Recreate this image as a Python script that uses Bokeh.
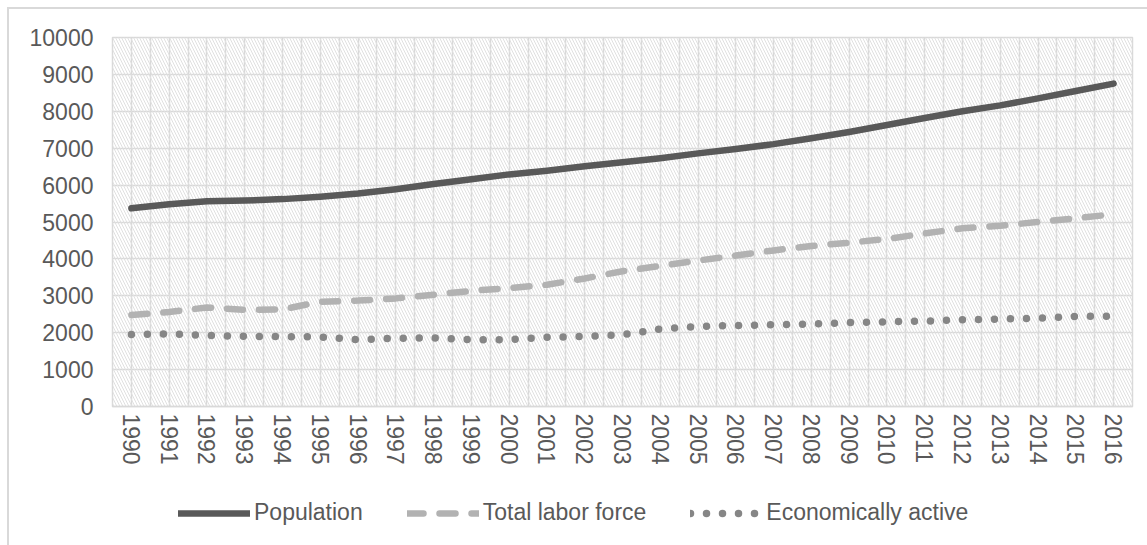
import numpy as np
from bokeh.plotting import figure
from bokeh.layouts import column
from bokeh.models import FixedTicker, BoxAnnotation, Legend, LegendItem
from bokeh.embed import file_html
from bokeh.resources import INLINE

# --- data -------------------------------------------------------------
years = [str(y) for y in range(1990, 2017)]

population = [5370, 5480, 5560, 5580, 5620, 5685, 5770, 5890, 6030, 6160,
              6290, 6390, 6510, 6620, 6730, 6860, 6980, 7110, 7270, 7440,
              7630, 7820, 8000, 8160, 8350, 8550, 8750]

labor_force = [2480, 2560, 2685, 2620, 2630, 2840, 2870, 2930, 3030, 3135,
               3210, 3300, 3470, 3665, 3810, 3955, 4090, 4230, 4350, 4440,
               4540, 4690, 4830, 4900, 5000, 5100, 5210]

econ_active = [1950, 1965, 1930, 1900, 1895, 1885, 1810, 1850, 1855, 1810,
               1810, 1875, 1900, 1945, 2100, 2170, 2195, 2215, 2235, 2275,
               2295, 2315, 2350, 2370, 2395, 2440, 2450]

series_names = ["Population", "Total labor force", "Economically active"]

y_ticks = list(range(0, 10001, 1000))

FONT = "Liberation Sans"
TXT = "#595959"
GRID = "#d9d9d9"

styles = [dict(line_color="#595959", line_width=6.5, line_cap="round", line_join="round"),
          dict(line_color="#b2b2b2", line_width=6.5, line_cap="round", line_join="round",
               line_dash="16 16"),
          dict(line_color="#868686", line_width=7.5, line_cap="round", line_join="round",
               line_dash="0 16")]

x = list(range(len(years)))
all_series = [population, labor_force, econ_active]

p = figure(frame_width=1018, frame_height=367,
           min_border_left=103, min_border_right=17,
           min_border_top=28, min_border_bottom=80,
           x_range=(-0.5, len(years) - 0.5), y_range=(0, 10000),
           output_backend="svg", toolbar_location=None,
           background_fill_color="white", border_fill_color="white")

# chart-area frame on the left and top edges
p.margin = (7, 0, 0, 7)
p.styles = {"border-left": f"2px solid {GRID}", "border-top": f"2px solid {GRID}"}

# hatched plot area
p.add_layout(BoxAnnotation(level="underlay", fill_alpha=0, line_alpha=0,
                           hatch_pattern="\\", hatch_color="#e0e0e0",
                           hatch_alpha=1.0, hatch_scale=6, hatch_weight=1))

p.outline_line_color = GRID
p.outline_line_width = 1.5

# gridlines at category centres and boundaries
p.xgrid.ticker = FixedTicker(ticks=list(np.arange(-0.5, len(years), 0.5)))
p.xgrid.grid_line_color = GRID
p.xgrid.grid_line_width = 1.5
p.ygrid.ticker = FixedTicker(ticks=y_ticks)
p.ygrid.grid_line_color = GRID
p.ygrid.grid_line_width = 1.5

# axes
p.xaxis.ticker = FixedTicker(ticks=x)
p.xaxis.major_label_overrides = {i: y for i, y in enumerate(years)}
p.xaxis.major_label_orientation = "vertical"
p.yaxis.ticker = FixedTicker(ticks=y_ticks)
for ax in (p.xaxis[0], p.yaxis[0]):
    ax.axis_line_color = GRID
    ax.axis_line_width = 1.5
    ax.major_tick_line_color = None
    ax.minor_tick_line_color = None
    ax.major_tick_out = 0
    ax.major_tick_in = 0
    ax.major_label_text_font = FONT
    ax.major_label_text_font_size = "23px"
    ax.major_label_text_color = TXT
p.yaxis.axis_line_color = None
p.yaxis.major_label_standoff = 19
p.xaxis.major_label_standoff = 7

# series
for vals, st in zip(all_series, styles):
    p.line(x, vals, **st)

# legend strip underneath the plot (its series lie outside its tiny range,
# so only the legend samples show)
lf = figure(frame_width=1138, frame_height=61, x_range=(0, 1), y_range=(0, 1),
            x_axis_location=None, y_axis_location=None,
            min_border=0, output_backend="svg", toolbar_location=None,
            background_fill_color="white", border_fill_color="white")
lf.margin = (0, 0, 0, 7)
lf.styles = {"border-left": f"2px solid {GRID}"}
lf.grid.visible = False
lf.outline_line_color = None

items = []
for name, vals, st in zip(series_names, all_series, styles):
    r = lf.line(x, vals, **st)
    items.append(LegendItem(label=name, renderers=[r]))

legend = Legend(items=items, orientation="horizontal", location=(169, 19),
                glyph_width=72, glyph_height=22, label_standoff=4, spacing=44,
                padding=0, margin=0, border_line_color=None,
                background_fill_alpha=0,
                label_text_font=FONT, label_text_font_size="23px",
                label_text_color=TXT, label_height=24)
lf.add_layout(legend, "center")

layout = column(p, lf, spacing=0)
open("out.html", "w").write(file_html(layout, INLINE))
